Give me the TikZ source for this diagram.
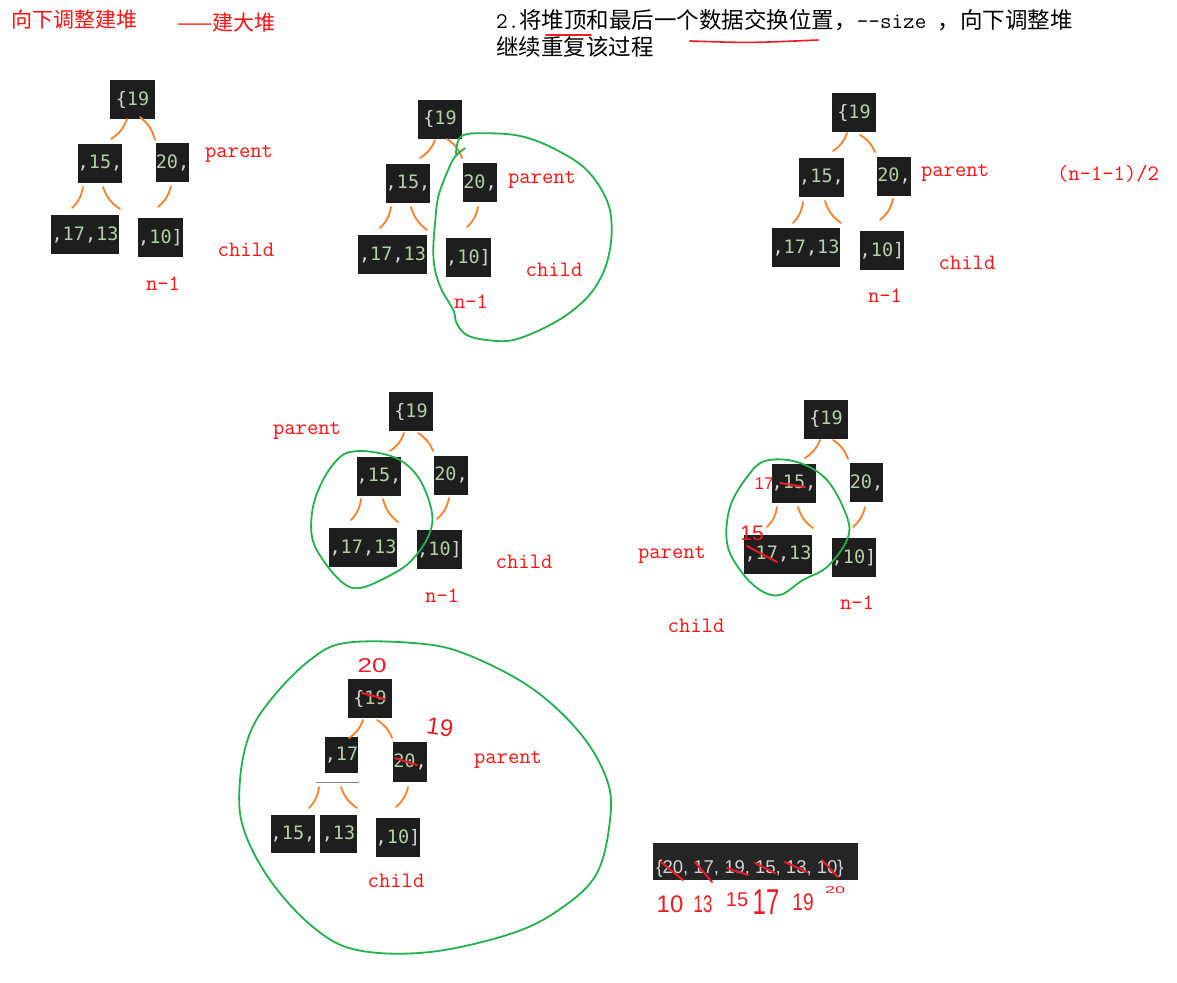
\documentclass[tikz,border=0pt]{standalone}
\usepackage{fontspec}
\newfontfamily\cjk{Noto Sans CJK SC}
\newfontfamily\codefont{DejaVu Sans Mono}
\newfontfamily\sansf{Liberation Sans}
\definecolor{boxbg}{HTML}{1E1E1E}
\definecolor{arrbg}{HTML}{252526}
\definecolor{numc}{HTML}{B5CEA8}
\definecolor{punc}{HTML}{D4D4D4}
\definecolor{orng}{HTML}{FF7F27}
\definecolor{pgreen}{HTML}{22B14C}
\definecolor{pred}{HTML}{ED1C24}
\definecolor{lblred}{HTML}{FF1010}
\newcommand\pu[1]{\textcolor{punc}{#1}}
\newcommand\oedge[4]{\coordinate (#1s) at (#2); \coordinate (#1t) at (#3); \draw[edge] (#1s) to[#4] (#1t);}
\begin{document}
\begin{tikzpicture}[x=1pt,y=-1pt,
  cbox/.style={fill=boxbg, inner sep=0pt, minimum height=39pt, text=numc, font=\codefont\fontsize{18.5}{18.5}\selectfont},
  lbl/.style={text=lblred, inner sep=0pt, font=\ttfamily\fontsize{22}{22}\selectfont},
  edge/.style={draw=orng, line width=1.8pt, line cap=round},
  gloop/.style={draw=pgreen, line width=1.8pt, line cap=round, line join=round},
  hw/.style={draw=pred, line width=2pt, line cap=round},
  hwt/.style={text=pred, inner sep=0pt, font=\sansf\fontsize{20}{20}\selectfont},
  LB/.style={bend left=18}, RB/.style={bend left=18}, QB/.style={bend right=18}
]
\useasboundingbox[fill=white] (0,0) rectangle (1177,982);

% ---------- header ----------
\node[anchor=west, text=lblred, inner sep=0pt, font=\cjk\fontsize{21}{21}\selectfont] (title) at (11,20) {向下调整建堆};
\node[anchor=west, text=lblred, inner sep=0pt, font=\cjk\fontsize{21}{21}\selectfont] (sub) at (177,23) {——建大堆};
\node[anchor=west, inner sep=0pt, font=\cjk\fontsize{22.5}{22.5}\selectfont] (line1) at (496,20) {{\ttfamily 2.}将堆顶和最后一个数据交换位置，{\ttfamily --size }，向下调整堆};
\node[anchor=west, inner sep=0pt, font=\cjk\fontsize{22.5}{22.5}\selectfont] (line2) at (496,47) {继续重复该过程};
\coordinate (u1a) at (546,35); \coordinate (u1b) at (591,35);
\draw[hw, line width=1.6pt] (u1a) -- (u1b);
\coordinate (u2a) at (690,41); \coordinate (u2m) at (750,43); \coordinate (u2b) at (818,40);
\draw[hw, line width=1.6pt] (u2a) .. controls (u2m) .. (u2b);

% ---------- tree 1 ----------
\node[cbox, minimum width=45pt] (t1a) at (132.5,99.5) {\pu{\{}19};
\node[cbox, minimum width=44pt] (t1b) at (100,163.5) {\pu{,}15\pu{,}};
\node[cbox, minimum width=31pt] (t1c) at (172.5,162.5) {20\pu{,}};
\node[cbox, minimum width=68pt] (t1d) at (85,234.5) {\pu{,}17\pu{,}13};
\node[cbox, minimum width=37pt] (t1e) at (160.5,237.5) {\pu{,}10\pu{]}};
\oedge{a1}{127,119}{111,139}{LB}
\oedge{b1}{140,117}{155,140}{RB}
\oedge{c1}{83,187}{72,208}{LB}
\oedge{d1}{103,187}{120,209}{QB}
\oedge{f1}{171,186}{158,207}{LB}
\node[lbl] (p1) at (239,154) {parent};
\node[lbl] (c1) at (246,250) {child};
\node[lbl] (n1) at (163,284) {n-1};

% ---------- tree 2 ----------
\node[cbox, minimum width=44pt] (t2a) at (440,119) {\pu{\{}19};
\node[cbox, minimum width=44pt] (t2b) at (408,183) {\pu{,}15\pu{,}};
\node[cbox, minimum width=30pt] (t2c) at (480,182.5) {20\pu{,}};
\node[cbox, minimum width=69pt] (t2d) at (392.5,254.5) {\pu{,}17\pu{,}13};
\node[cbox, minimum width=37pt] (t2e) at (468.5,257.5) {\pu{,}10\pu{]}};
\oedge{a2}{435,140}{420,158}{LB}
\oedge{b2}{447,139}{462,158}{RB}
\oedge{c2}{391,207}{380,228}{LB}
\oedge{d2}{411,207}{427,230}{QB}
\oedge{f2}{478,207}{467,227}{LB}
\node[lbl] (p2) at (542,180) {parent};
\node[lbl] (c2) at (554,270) {child};
\node[lbl] (n2) at (471,302) {n-1};
\draw[gloop] plot[smooth, tension=0.6] coordinates {(456,154) (461.7,136) (490,133.3) (523.3,136.7) (556.7,150) (586.7,170) (606.7,200) (611.7,230) (606.7,263.3) (593.3,290) (573.3,310) (546.7,326.7) (513.3,340) (486.7,340) (466.7,335) (456.7,323.3) (453.3,310) (441.7,290) (435,270) (433.3,250) (435,223.3) (438.3,196.7) (446.7,173.3) (455,156.7) (465,148.3)};

% ---------- tree 3 ----------
\node[cbox, minimum width=44pt] (t3a) at (854,112.5) {\pu{\{}19};
\node[cbox, minimum width=43pt] (t3b) at (821.5,177) {\pu{,}15\pu{,}};
\node[cbox, minimum width=30pt] (t3c) at (894,176) {20\pu{,}};
\node[cbox, minimum width=68pt] (t3d) at (806,247.5) {\pu{,}17\pu{,}13};
\node[cbox, minimum width=36pt] (t3e) at (882,250.5) {\pu{,}10\pu{]}};
\oedge{a3}{847,133}{833,151}{LB}
\oedge{b3}{860,135}{875,152}{RB}
\oedge{c3}{803,202}{793,223}{LB}
\oedge{d3}{825,201}{841,223}{QB}
\oedge{f3}{893,199}{880,220}{LB}
\node[lbl] (p3) at (955,173) {parent};
\node[lbl] (f3) at (1108,174) {(n-1-1)/2};
\node[lbl] (c3) at (967,263) {child};
\node[lbl] (n3) at (885,296) {n-1};

% ---------- tree 4 ----------
\node[cbox, minimum width=44pt] (t4a) at (411,411.5) {\pu{\{}19};
\node[cbox, minimum width=44pt] (t4b) at (379,476.5) {\pu{,}15\pu{,}};
\node[cbox, minimum width=30pt] (t4c) at (451,475) {20\pu{,}};
\node[cbox, minimum width=68pt] (t4d) at (363,547.5) {\pu{,}17\pu{,}13};
\node[cbox, minimum width=37pt] (t4e) at (439.5,549.5) {\pu{,}10\pu{]}};
\oedge{a4}{404,433}{390,451}{LB}
\oedge{b4}{418,433}{433,451}{RB}
\oedge{c4}{361,499}{351,520}{LB}
\oedge{d4}{383,499}{398,522}{QB}
\oedge{f4}{449,498}{437,519}{LB}
\node[lbl] (p4) at (307,431) {parent};
\node[lbl] (c4) at (524,562) {child};
\node[lbl] (n4) at (442,596) {n-1};
\draw[gloop] plot[smooth cycle, tension=0.6] coordinates {(350,452) (373,452) (400,460) (420,480) (432,513) (428,537) (410,562) (387,577) (360,588) (343,583) (323,560) (312,537) (313,507) (323,480) (337,460)};

% ---------- tree 5 ----------
\node[cbox, minimum width=44pt] (t5a) at (826,419) {\pu{\{}19};
\node[cbox, minimum width=44pt] (t5b) at (794,483.5) {\pu{,}15\pu{,}};
\node[cbox, minimum width=31pt] (t5c) at (866.5,482.5) {20\pu{,}};
\node[cbox, minimum width=68pt] (t5d) at (778,554) {\pu{,}17\pu{,}13};
\node[cbox, minimum width=36pt] (t5e) at (854,557.5) {\pu{,}10\pu{]}};
\oedge{a5}{820,440}{805,458}{LB}
\oedge{b5}{833,440}{848,459}{RB}
\oedge{c5}{777,507}{767,527}{LB}
\oedge{d5}{798,507}{813,528}{QB}
\oedge{f5}{865,507}{853,527}{LB}
\node[lbl] (p5) at (672,555) {parent};
\node[lbl] (c5) at (696,626) {child};
\node[lbl] (n5) at (857,603) {n-1};
\draw[gloop] plot[smooth cycle, tension=0.6] coordinates {(765,461) (797,462) (827,480) (847,517) (847,540) (827,567) (803,580) (780,595) (760,590) (740,570) (727,543) (730,507) (747,477)};
\node[hwt, font=\sansf\fontsize{17}{17}\selectfont] (h17) at (764,484) {17};
\coordinate (s5a) at (780,483); \coordinate (s5b) at (805,487);
\draw[hw] (s5a) -- (s5b);
\node[hwt, font=\sansf\fontsize{21}{21}\selectfont] (h15) at (752,533) {15};
\coordinate (s5c) at (747,546); \coordinate (s5d) at (777,562);
\draw[hw] (s5c) -- (s5d);

% ---------- tree 6 ----------
\node[cbox, minimum width=44pt] (t6a) at (370,698.5) {\pu{\{}19};
\node[cbox, minimum width=33pt, minimum height=36pt] (t6b) at (341.5,755) {\pu{,}17};
\node[cbox, minimum width=30pt, minimum height=40pt] (t6c) at (410,762) {20\pu{,}};
\node[cbox, minimum width=44pt, minimum height=38pt] (t6d) at (293,834) {\pu{,}15\pu{,}};
\node[cbox, minimum width=37pt, minimum height=38pt] (t6e) at (338.5,834) {\pu{,}13};
\node[cbox, minimum width=38pt] (t6f) at (398,837.5) {\pu{,}10\pu{]}};
\coordinate (g6a) at (316,782); \coordinate (g6b) at (359,782);
\draw[gray, line width=1pt] (g6a) -- (g6b);
\oedge{a6}{363,720}{349,738}{LB}
\oedge{b6}{377,720}{392,738}{RB}
\oedge{c6}{319,787}{309,808}{LB}
\oedge{d6}{341,787}{357,808}{QB}
\oedge{f6}{408,787}{396,807}{LB}
\node[lbl] (p6) at (508,760) {parent};
\node[lbl] (c6) at (396,881) {child};
\node[hwt, xscale=1.3] (h20) at (372,666) {20};
\coordinate (s6a) at (362,693); \coordinate (s6b) at (385,699);
\draw[hw] (s6a) -- (s6b);
\node[hwt, font=\sansf\fontsize{24}{24}\selectfont, rotate=-8] (h19) at (440,727) {19};
\coordinate (s6c) at (395,758); \coordinate (s6d) at (417,765);
\draw[hw] (s6c) -- (s6d);
\draw[gloop] plot[smooth cycle, tension=0.6] coordinates {(345,643) (413,643) (463,653) (530,687) (580,733) (607,780) (610,820) (597,873) (563,907) (513,933) (430,952) (357,950) (313,927) (270,880) (243,827) (240,780) (250,733) (273,697) (310,660)};

% ---------- array ----------
\node[fill=arrbg, inner sep=0pt, minimum width=205pt, minimum height=37pt] (arr) at (755.5,861.5) {};
\node[inner sep=0pt, text=punc, font=\sansf\fontsize{18.5}{18.5}\selectfont] (arrt) at (750,869) {\{20, 17, 19, 15, 13, 10\}};
\coordinate (x1a) at (661,862); \coordinate (x1b) at (683,880);
\coordinate (x2a) at (695,862); \coordinate (x2b) at (712,882);
\coordinate (x3a) at (727,868); \coordinate (x3b) at (748,875);
\coordinate (x4a) at (755,863); \coordinate (x4b) at (775,873);
\coordinate (x5a) at (785,862); \coordinate (x5b) at (807,872);
\coordinate (x6a) at (822,860); \coordinate (x6b) at (838,877);
\draw[hw] (x1a) -- (x1b); \draw[hw] (x2a) -- (x2b); \draw[hw] (x3a) -- (x3b);
\draw[hw] (x4a) -- (x4b); \draw[hw] (x5a) -- (x5b); \draw[hw] (x6a) -- (x6b);
\node[hwt, font=\sansf\fontsize{24}{24}\selectfont] (b10) at (670,904) {10};
\node[hwt, font=\sansf\fontsize{24}{24}\selectfont, xscale=0.7] (b13) at (703,904) {13};
\node[hwt, font=\sansf\fontsize{20}{20}\selectfont] (b15) at (737,900) {15};
\node[hwt, font=\sansf\fontsize{24}{24}\selectfont, yscale=1.5] (b17) at (766,902) {17};
\node[hwt, font=\sansf\fontsize{24}{24}\selectfont, xscale=0.8] (b19) at (803,902) {19};
\node[hwt, font=\sansf\fontsize{18}{18}\selectfont, yscale=0.55] (b20) at (835,890) {20};
\end{tikzpicture}
\end{document}
